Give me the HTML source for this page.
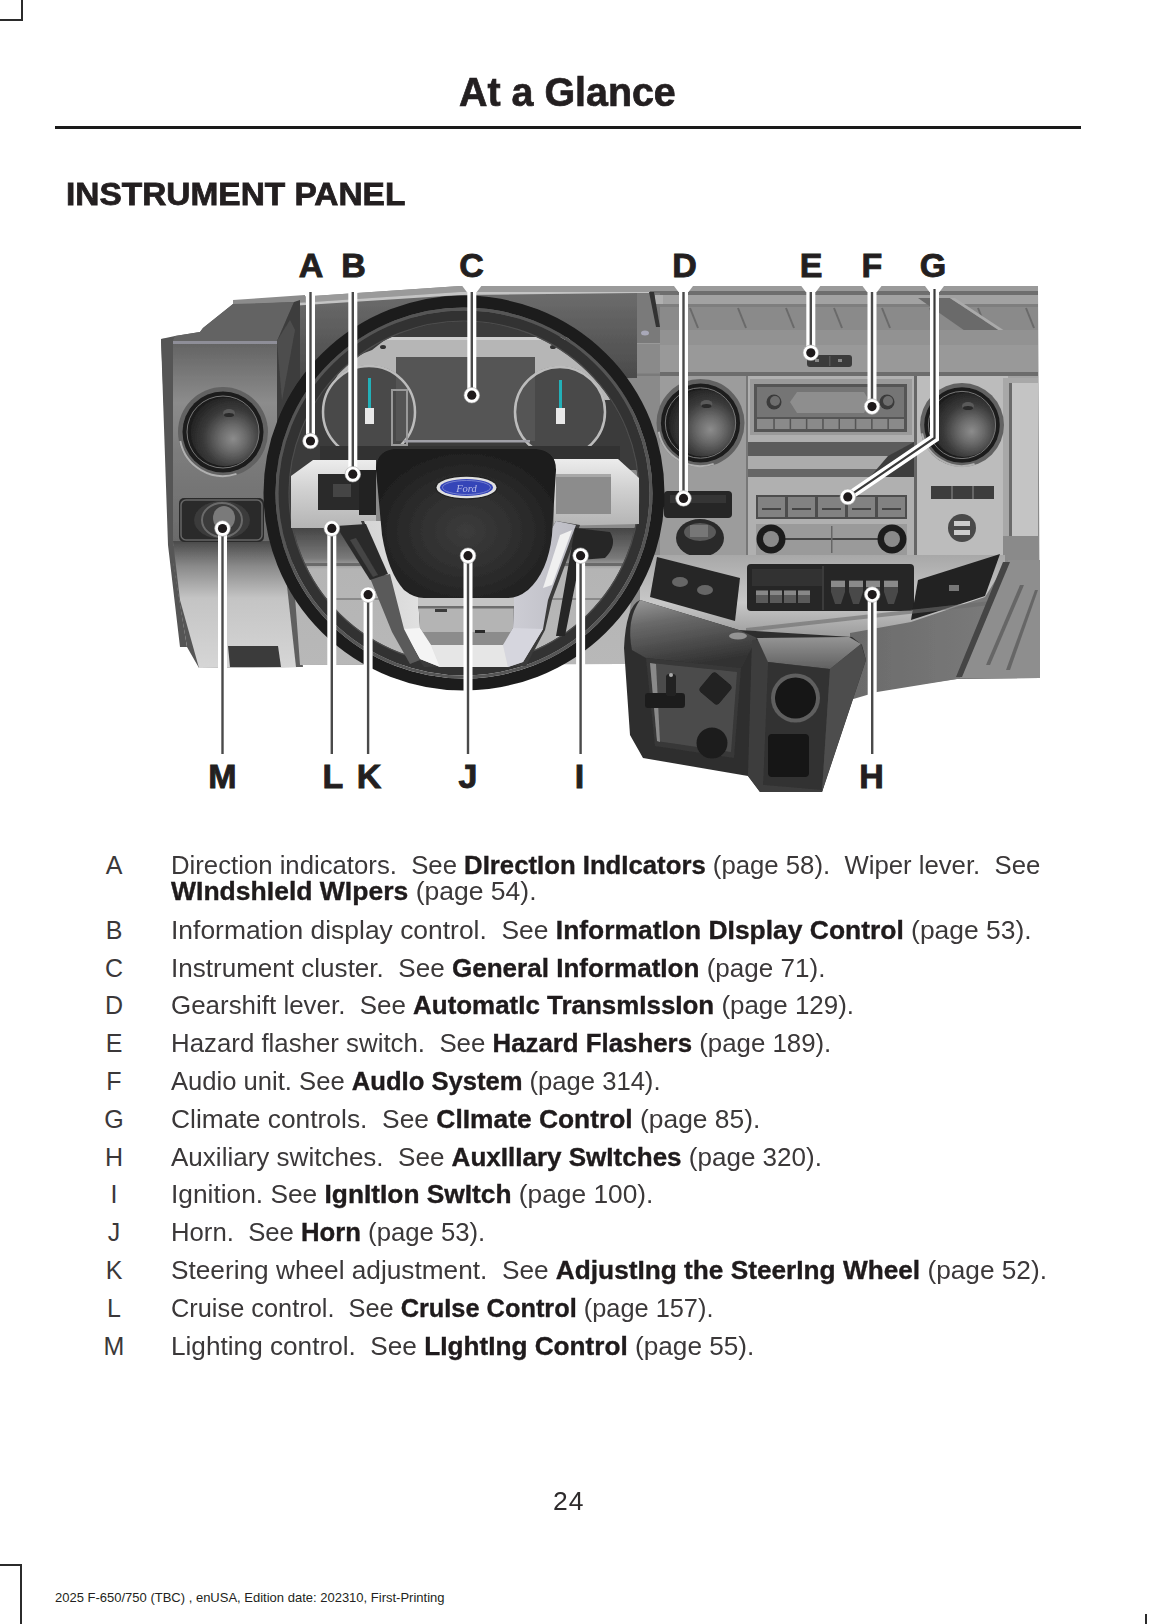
<!DOCTYPE html>
<html><head><meta charset="utf-8">
<style>
html,body{margin:0;padding:0;background:#fff;}
body{width:1168px;height:1624px;position:relative;overflow:hidden;font-family:"Liberation Sans",sans-serif;color:#231f20;}
.t{position:absolute;white-space:nowrap;transform-origin:0 0;}
.ln{position:absolute;left:171px;font-size:25px;line-height:30px;white-space:nowrap;transform-origin:0 50%;color:#3b3839;}
.lt{position:absolute;width:40px;left:94px;text-align:center;font-size:25px;line-height:30px;color:#3b3839;}
b{font-weight:bold;color:#1f1b1c;-webkit-text-stroke:0.35px #1f1b1c;}
.mk{position:absolute;background:#2b2b2b;}
</style></head><body>
<div class="mk" style="left:21px;top:0;width:2px;height:21px"></div>
<div class="mk" style="left:0;top:19px;width:23px;height:2px"></div>
<div class="mk" style="left:20px;top:1564px;width:2px;height:60px"></div>
<div class="mk" style="left:0;top:1564px;width:22px;height:2px"></div>
<div class="mk" style="left:1145px;top:1614px;width:2px;height:10px"></div>

<div class="t" id="h1" style="left:459px;top:67.5px;font-size:40px;transform:scaleX(0.985);-webkit-text-stroke:0.7px #231f20;font-weight:bold;line-height:48px;">At a Glance</div>
<div class="mk" style="left:55px;top:126px;width:1026px;height:2.5px;background:#1a1a1a"></div>
<div class="t" id="h2" style="left:66px;top:175.5px;font-size:32px;transform:scaleX(1.045);-webkit-text-stroke:0.8px #231f20;font-weight:bold;line-height:36px;">INSTRUMENT PANEL</div>

<div id="items">
<div class="lt" style="top:850.4px">A</div>
<div class="ln" id="l1" style="top:850.4px;transform:scaleX(1.029)">Direction indicators.&nbsp; See <b>DIrectIon IndIcators</b> (page 58).&nbsp; Wiper lever.&nbsp; See</div>
<div class="ln" id="l2" style="top:876.4px;transform:scaleX(1.061)"><b>WIndshIeld WIpers</b> (page 54).</div>
<div class="lt" style="top:914.7px">B</div>
<div class="ln" id="l3" style="top:914.7px;transform:scaleX(1.057)">Information display control.&nbsp; See <b>InformatIon DIsplay Control</b> (page 53).</div>
<div class="lt" style="top:952.5px">C</div>
<div class="ln" id="l4" style="top:952.5px;transform:scaleX(1.042)">Instrument cluster.&nbsp; See <b>General InformatIon</b> (page 71).</div>
<div class="lt" style="top:990.3px">D</div>
<div class="ln" id="l5" style="top:990.3px;transform:scaleX(1.037)">Gearshift lever.&nbsp; See <b>AutomatIc TransmIssIon</b> (page 129).</div>
<div class="lt" style="top:1028.1px">E</div>
<div class="ln" id="l6" style="top:1028.1px;transform:scaleX(1.033)">Hazard flasher switch.&nbsp; See <b>Hazard Flashers</b> (page 189).</div>
<div class="lt" style="top:1065.9px">F</div>
<div class="ln" id="l7" style="top:1065.9px;transform:scaleX(1.024)">Audio unit. See <b>AudIo System</b> (page 314).</div>
<div class="lt" style="top:1103.7px">G</div>
<div class="ln" id="l8" style="top:1103.7px;transform:scaleX(1.055)">Climate controls.&nbsp; See <b>ClImate Control</b> (page 85).</div>
<div class="lt" style="top:1141.5px">H</div>
<div class="ln" id="l9" style="top:1141.5px;transform:scaleX(1.041)">Auxiliary switches.&nbsp; See <b>AuxIlIary SwItches</b> (page 320).</div>
<div class="lt" style="top:1179.3px">I</div>
<div class="ln" id="l10" style="top:1179.3px;transform:scaleX(1.052)">Ignition. See <b>IgnItIon SwItch</b> (page 100).</div>
<div class="lt" style="top:1217.1px">J</div>
<div class="ln" id="l11" style="top:1217.1px;transform:scaleX(1.028)">Horn.&nbsp; See <b>Horn</b> (page 53).</div>
<div class="lt" style="top:1254.9px">K</div>
<div class="ln" id="l12" style="top:1254.9px;transform:scaleX(1.049)">Steering wheel adjustment.&nbsp; See <b>AdjustIng the SteerIng Wheel</b> (page 52).</div>
<div class="lt" style="top:1292.7px">L</div>
<div class="ln" id="l13" style="top:1292.7px;transform:scaleX(1.014)">Cruise control.&nbsp; See <b>CruIse Control</b> (page 157).</div>
<div class="lt" style="top:1330.5px">M</div>
<div class="ln" id="l14" style="top:1330.5px;transform:scaleX(1.047)">Lighting control.&nbsp; See <b>LIghtIng Control</b> (page 55).</div>
</div>

<div class="t" id="pg" style="left:553px;top:1486px;font-size:25px;letter-spacing:1px;transform:scaleX(1.06);color:#2e2b2c;line-height:30px;">24</div>
<div class="t" id="ft" style="left:55px;top:1590px;font-size:13px;line-height:16px;">2025 F-650/750 (TBC) , enUSA, Edition date: 202310, First-Printing</div>

<svg id="dash" width="1168" height="1624" style="position:absolute;left:0;top:0" viewBox="0 0 1168 1624">
<defs>
<linearGradient id="gLeftFace" x1="0" y1="0" x2="0" y2="1">
<stop offset="0" stop-color="#626262"/><stop offset="0.3" stop-color="#8c8c8c"/><stop offset="0.55" stop-color="#7c7c7c"/><stop offset="1" stop-color="#6a6a6a"/></linearGradient>
<linearGradient id="gLowLeft" x1="0" y1="0" x2="0" y2="1">
<stop offset="0" stop-color="#4a4a4a"/><stop offset="0.2" stop-color="#8a8a8a"/><stop offset="0.45" stop-color="#c4c4c4"/><stop offset="1" stop-color="#d6d6d6"/></linearGradient>
<radialGradient id="gVent" cx="0.6" cy="0.58" r="0.65" fx="0.62" fy="0.6">
<stop offset="0" stop-color="#8c8c8c"/><stop offset="0.3" stop-color="#6a6a6a"/><stop offset="0.65" stop-color="#3a3a3a"/><stop offset="1" stop-color="#202020"/></radialGradient>
<radialGradient id="gHub" cx="0.5" cy="0.55" r="0.6">
<stop offset="0" stop-color="#3c3c3c"/><stop offset="0.6" stop-color="#2a2a2a"/><stop offset="1" stop-color="#1a1a1a"/></radialGradient>
<linearGradient id="gSpokeL" x1="0" y1="0" x2="0" y2="1">
<stop offset="0" stop-color="#ececec"/><stop offset="0.45" stop-color="#d0d0d0"/><stop offset="1" stop-color="#b4b4b4"/></linearGradient>
<linearGradient id="gSpokeV" x1="0" y1="0" x2="1" y2="0">
<stop offset="0" stop-color="#d4d4d4"/><stop offset="0.3" stop-color="#e2e2e2"/><stop offset="0.7" stop-color="#cdcdd4"/><stop offset="1" stop-color="#bcbcc4"/></linearGradient>
<linearGradient id="gConsole" x1="0" y1="0" x2="0" y2="1">
<stop offset="0" stop-color="#5a5a5a"/><stop offset="0.5" stop-color="#3e3e3e"/><stop offset="1" stop-color="#2a2a2a"/></linearGradient>
<linearGradient id="gHood" x1="0" y1="0" x2="0" y2="1">
<stop offset="0" stop-color="#6c6c6c"/><stop offset="0.5" stop-color="#5a5a5a"/><stop offset="1" stop-color="#4a4a4a"/></linearGradient>
<linearGradient id="gUnder" x1="0" y1="0" x2="0" y2="1">
<stop offset="0" stop-color="#454545"/><stop offset="0.22" stop-color="#7a7a7a"/><stop offset="0.3" stop-color="#b4b4b4"/><stop offset="1" stop-color="#b8b8b8"/></linearGradient>
<linearGradient id="gLowCenter" x1="0" y1="0" x2="0" y2="1">
<stop offset="0" stop-color="#a8a8a8"/><stop offset="0.5" stop-color="#c8c8c8"/><stop offset="1" stop-color="#8a8a8a"/></linearGradient>
<linearGradient id="gRightLow" x1="0" y1="0" x2="1" y2="0">
<stop offset="0" stop-color="#6a6a6a"/><stop offset="1" stop-color="#808080"/></linearGradient>
<linearGradient id="gConsoleTop" x1="0" y1="0" x2="0.3" y2="1">
<stop offset="0" stop-color="#9a9a9a"/><stop offset="0.35" stop-color="#6a6a6a"/><stop offset="1" stop-color="#333"/></linearGradient>
<linearGradient id="gConsoleTop2" x1="0" y1="0" x2="0" y2="1">
<stop offset="0" stop-color="#959595"/><stop offset="1" stop-color="#606060"/></linearGradient>
<filter id="soft" x="-2%" y="-2%" width="104%" height="104%"><feGaussianBlur stdDeviation="0.7"/></filter>
<filter id="blur1" x="-5%" y="-5%" width="110%" height="110%"><feGaussianBlur stdDeviation="1"/></filter>
<filter id="blur2" x="-10%" y="-10%" width="120%" height="120%"><feGaussianBlur stdDeviation="2.5"/></filter>
</defs>
<style>.lab{font-family:"Liberation Sans",sans-serif;font-weight:bold;font-size:34px;fill:#231f20;stroke:#231f20;stroke-width:0.9;}</style>
<g filter="url(#soft)">
<polygon points="298,297 460,286 1038,286 1040,678 957,679 866,692 866,640 625,650 625,664 300,665" fill="#8a8a8a"/>
<polygon points="298,297 460,286 1038,286 1038,292 460,292 298,303" fill="#9a9a9a"/>
<polygon points="298,303 460,292 650,292 650,295 460,296 298,308" fill="#c4c4c4"/>
<polygon points="290,306 460,295 637,293 637,378 290,380" fill="url(#gHood)"/>
<rect x="650" y="291" width="388" height="4" fill="#6e6e6e"/>
<rect x="650" y="295" width="388" height="9" fill="#a2a2a2"/>
<rect x="650" y="304" width="388" height="3" fill="#7e7e7e"/>
<rect x="650" y="307" width="388" height="23" fill="#8a8a8a"/>
<line x1="690" y1="308" x2="698" y2="328" stroke="#6a6a6a" stroke-width="2"/>
<line x1="738" y1="308" x2="746" y2="328" stroke="#6a6a6a" stroke-width="2"/>
<line x1="786" y1="308" x2="794" y2="328" stroke="#6a6a6a" stroke-width="2"/>
<line x1="834" y1="308" x2="842" y2="328" stroke="#6a6a6a" stroke-width="2"/>
<line x1="882" y1="308" x2="890" y2="328" stroke="#6a6a6a" stroke-width="2"/>
<line x1="930" y1="308" x2="938" y2="328" stroke="#6a6a6a" stroke-width="2"/>
<line x1="978" y1="308" x2="986" y2="328" stroke="#6a6a6a" stroke-width="2"/>
<line x1="1026" y1="308" x2="1034" y2="328" stroke="#6a6a6a" stroke-width="2"/>
<polygon points="918,298 950,298 1003,333 968,333" fill="#6a6a6a"/>
<polygon points="950,298 1003,333 1008,333 955,298" fill="#aaa"/>
<rect x="650" y="330" width="388" height="15" fill="#929292"/>
<rect x="650" y="345" width="388" height="28" fill="#999"/>
<rect x="650" y="372" width="388" height="4" fill="#6c6c6c"/>
<rect x="637" y="293" width="23" height="83" fill="#7a7a7a"/>
<rect x="655" y="295" width="8" height="9" fill="#b0b0b0"/>
<polygon points="649,292 654,292 660,327 656,327" fill="#333"/>
<rect x="637" y="343" width="23" height="1.5" fill="#999"/>
<rect x="637" y="344.5" width="23" height="29" fill="#8a8a8a"/>
<ellipse cx="645" cy="333" rx="4" ry="2.5" fill="#a8a8b8"/>
<rect x="807" y="355" width="45" height="12" rx="3" fill="#3a3a3a"/>
<rect x="829" y="356" width="1.5" height="10" fill="#555"/>
<rect x="815" y="359" width="4" height="3" fill="#888"/><rect x="838" y="359" width="4" height="3" fill="#888"/>
<rect x="660" y="376" width="378" height="190" fill="#a2a2a2"/>
<rect x="660" y="376" width="88" height="190" fill="#9c9c9c"/>
<rect x="746" y="376" width="170" height="235" fill="#b0b0b0"/>
<rect x="746" y="376" width="2" height="235" fill="#777"/>
<rect x="914" y="376" width="3" height="235" fill="#666"/>
<path d="M917,376 L1008,376 L1008,550 Q1008,560 998,562 L917,575 Z" fill="#bcbcbc"/>
<rect x="1003" y="378" width="35" height="182" fill="#a8a8a8"/>
<rect x="1012" y="383" width="26" height="153" fill="#c4c4c4"/>
<rect x="1009" y="383" width="3" height="160" fill="#6a6a6a"/>
<rect x="1003" y="536" width="35" height="26" fill="#8a8a8a"/>
<rect x="750" y="379" width="162" height="56" fill="#9a9a9a"/>
<rect x="754" y="384" width="153" height="48" fill="#555"/>
<rect x="757" y="387" width="147" height="30" fill="#747474"/>
<polygon points="797,392 864,392 870,402 864,413 797,413 790,402" fill="#8e8e8e"/>
<circle cx="774" cy="402" r="7.5" fill="#3a3a3a"/><circle cx="775" cy="401" r="5" fill="#6e6e6e"/>
<circle cx="887" cy="402" r="7.5" fill="#3a3a3a"/><circle cx="888" cy="401" r="5" fill="#6e6e6e"/>
<rect x="757" y="419" width="147" height="10" fill="#8a8a8a"/>
<rect x="773.3" y="419" width="1.5" height="10" fill="#555"/>
<rect x="789.6" y="419" width="1.5" height="10" fill="#555"/>
<rect x="805.9" y="419" width="1.5" height="10" fill="#555"/>
<rect x="822.2" y="419" width="1.5" height="10" fill="#555"/>
<rect x="838.5" y="419" width="1.5" height="10" fill="#555"/>
<rect x="854.8" y="419" width="1.5" height="10" fill="#555"/>
<rect x="871.1" y="419" width="1.5" height="10" fill="#555"/>
<rect x="887.4" y="419" width="1.5" height="10" fill="#555"/>
<rect x="748" y="442" width="166" height="14" fill="#5c5c5c"/>
<rect x="748" y="456" width="166" height="13" fill="#acacac"/>
<rect x="748" y="469" width="166" height="8" fill="#666"/>
<polygon points="888,456 914,442 914,477 870,477" fill="#3e3e3e"/>
<rect x="756" y="495" width="151" height="24" fill="#4e4e4e"/>
<rect x="758" y="497" width="27" height="20" fill="#828282"/>
<rect x="762" y="508" width="19" height="2" fill="#444"/>
<rect x="788" y="497" width="27" height="20" fill="#828282"/>
<rect x="792" y="508" width="19" height="2" fill="#444"/>
<rect x="818" y="497" width="27" height="20" fill="#828282"/>
<rect x="822" y="508" width="19" height="2" fill="#444"/>
<rect x="848" y="497" width="27" height="20" fill="#828282"/>
<rect x="852" y="508" width="19" height="2" fill="#444"/>
<rect x="878" y="497" width="27" height="20" fill="#828282"/>
<rect x="882" y="508" width="19" height="2" fill="#444"/>
<rect x="756" y="524" width="151" height="31" fill="#9a9a9a"/>
<rect x="785" y="538" width="95" height="2" fill="#444"/>
<rect x="831" y="526" width="1.5" height="27" fill="#666"/>
<circle cx="771" cy="539" r="14.5" fill="#1c1c1c"/><circle cx="771" cy="539" r="8" fill="#8a8a8a"/>
<circle cx="892" cy="539" r="14.5" fill="#1c1c1c"/><circle cx="892" cy="539" r="8" fill="#8a8a8a"/>
<circle cx="700.5" cy="423" r="44" fill="#626262"/><path d="M658.7,431.8 A42.68,42.68 0 0 0 713.7,463.92" fill="none" stroke="#b0b0b0" stroke-width="2"/><circle cx="700.5" cy="423" r="39.6" fill="#1c1c1c"/><circle cx="702.5" cy="423" r="33.44" fill="url(#gVent)"/><circle cx="700.5" cy="423" r="35.2" fill="none" stroke="#777" stroke-width="1"/><ellipse cx="706.5" cy="404" rx="6" ry="4" fill="#5a5a5a"/><ellipse cx="706.5" cy="406" rx="5" ry="2" fill="#2a2a2a"/>
<circle cx="962" cy="425" r="42" fill="#626262"/><path d="M922.1,433.4 A40.74,40.74 0 0 0 974.6,464.06" fill="none" stroke="#b0b0b0" stroke-width="2"/><circle cx="962" cy="425" r="37.800000000000004" fill="#1c1c1c"/><circle cx="964" cy="425" r="31.92" fill="url(#gVent)"/><circle cx="962" cy="425" r="33.6" fill="none" stroke="#777" stroke-width="1"/><ellipse cx="968" cy="406" rx="6" ry="4" fill="#5a5a5a"/><ellipse cx="968" cy="408" rx="5" ry="2" fill="#2a2a2a"/>
<rect x="931" y="486" width="63" height="13" fill="#3c3c3c"/>
<rect x="951" y="486" width="2" height="13" fill="#666"/><rect x="972" y="486" width="2" height="13" fill="#666"/>
<circle cx="962" cy="528" r="14" fill="#4a4a4a"/><rect x="954" y="521" width="16" height="5" fill="#ccc"/><rect x="954" y="530" width="16" height="5" fill="#ccc"/>
<rect x="664" y="491" width="68" height="27" rx="4" fill="#252525"/>
<rect x="670" y="495" width="56" height="8" fill="#353535"/>
<ellipse cx="700" cy="538" rx="24" ry="19" fill="#2a2a2a"/>
<ellipse cx="700" cy="532" rx="16" ry="9" fill="#5a5a5a"/>
<rect x="690" y="525" width="18" height="12" fill="#8a8a8a" opacity="0.6"/>
<polygon points="640,555 1005,555 1005,640 640,650" fill="url(#gLowCenter)"/>
<rect x="747" y="564" width="167" height="47" rx="4" fill="#252525"/>
<rect x="752" y="569" width="70" height="17" fill="#303030"/>
<rect x="756" y="590" width="12" height="13" fill="#5a5a5a"/>
<rect x="756" y="591" width="12" height="4" fill="#888"/>
<rect x="770" y="590" width="12" height="13" fill="#5a5a5a"/>
<rect x="770" y="591" width="12" height="4" fill="#888"/>
<rect x="784" y="590" width="12" height="13" fill="#5a5a5a"/>
<rect x="784" y="591" width="12" height="4" fill="#888"/>
<rect x="798" y="590" width="12" height="13" fill="#5a5a5a"/>
<rect x="798" y="591" width="12" height="4" fill="#888"/>
<rect x="822" y="566" width="2" height="44" fill="#3a3a3a"/>
<path d="M831,580 L845,580 L845,592 L841,604 L835,604 L831,592 Z" fill="#484848"/>
<rect x="831" y="581" width="14" height="6" fill="#8a8a8a"/>
<path d="M849,580 L863,580 L863,592 L859,604 L853,604 L849,592 Z" fill="#484848"/>
<rect x="849" y="581" width="14" height="6" fill="#8a8a8a"/>
<path d="M866,580 L880,580 L880,592 L876,604 L870,604 L866,592 Z" fill="#484848"/>
<rect x="866" y="581" width="14" height="6" fill="#8a8a8a"/>
<path d="M884,580 L898,580 L898,592 L894,604 L888,604 L884,592 Z" fill="#484848"/>
<rect x="884" y="581" width="14" height="6" fill="#8a8a8a"/>
<polygon points="657,557 740,578 735,621 650,597" fill="#262626"/>
<ellipse cx="680" cy="582" rx="8" ry="5" fill="#666"/>
<ellipse cx="705" cy="590" rx="8" ry="5" fill="#666"/>
<polygon points="918,580 1000,554 985,596 911,620" fill="#222"/>
<rect x="949" y="585" width="10" height="6" fill="#777"/>
<polygon points="850,633 911,622 985,597 1008,560 1040,560 1040,678 957,679 877,692 850,700" fill="url(#gRightLow)"/>
<polygon points="746,628 1000,600 1000,604 746,632" fill="#6a6a6a" opacity="0.6"/>
<polygon points="1008,560 1040,560 1040,678 960,678" fill="#8e8e8e"/>
<polygon points="1003,562 1010,562 962,677 956,677" fill="#444"/>
<polygon points="1020,585 1024,585 990,665 986,665" fill="#666"/>
<polygon points="1035,590 1038,590 1010,670 1006,670" fill="#666"/>
<polygon points="161,339 175,336 200,332 203,328 233,304 294,301 300,298 300,667 199,668 187,647 170,545" fill="#565656"/>
<polygon points="233,300 305,295 305,302 294,302 233,305" fill="#8c8c8c"/>
<polygon points="175,336 200,332 203,328 233,304 294,302 277,341 173,341" fill="#646464"/>
<polygon points="161,339 173,338 173,560 187,647 180,647 168,545" fill="#555"/>
<rect x="173" y="341" width="104" height="205" fill="url(#gLeftFace)"/>
<rect x="173" y="341" width="104" height="3" fill="#8e8e98"/>
<polygon points="277,341 294,302 300,300 300,667 277,560" fill="#3e3e3e"/>
<polygon points="277,341 290,320 295,330 282,400" fill="#4e4e4e"/>
<polygon points="173,541 282,541 302,667 199,668 180,600" fill="url(#gLowLeft)"/>
<polygon points="228,646 278,646 281,667 230,667" fill="#3a3a3a"/>
<polygon points="282,541 290,541 303,667 296,667" fill="#5e5e5e"/>
<circle cx="223" cy="432" r="45" fill="#626262"/><path d="M180.25,441.0 A43.65,43.65 0 0 0 236.5,473.85" fill="none" stroke="#b0b0b0" stroke-width="2"/><circle cx="223" cy="432" r="40.5" fill="#1c1c1c"/><circle cx="225" cy="432" r="34.2" fill="url(#gVent)"/><circle cx="223" cy="432" r="36.0" fill="none" stroke="#777" stroke-width="1"/><ellipse cx="229" cy="413" rx="6" ry="4" fill="#5a5a5a"/><ellipse cx="229" cy="415" rx="5" ry="2" fill="#2a2a2a"/>
<rect x="179" y="498" width="85" height="44" rx="5" fill="#2a2a2a"/>
<rect x="181" y="500" width="81" height="40" rx="5" fill="none" stroke="#666" stroke-width="1.5"/>
<ellipse cx="222" cy="520" rx="28" ry="19" fill="#3a3a3a"/>
<ellipse cx="222" cy="520" rx="20" ry="17" fill="none" stroke="#6a6a6a" stroke-width="2"/>
<ellipse cx="224" cy="518" rx="11" ry="12" fill="#7a7a7a"/>
<polygon points="290,528 640,528 625,650 625,664 300,665" fill="url(#gUnder)"/>
<rect x="300" y="563" width="325" height="3" fill="#6a6a6a"/>
<rect x="300" y="598" width="325" height="2" fill="#8a8a8a"/>
<path d="M624,648 Q626,606 640,600 L739,630 L852,637 L862,645 L866,660 L822,792 L760,792 L748,776 L643,758 L630,735 Z" fill="#2e2e2e"/>
<path d="M640,600 L739,630 L757,638 L741,668 L646,658 L632,650 Q626,620 640,600 Z" fill="url(#gConsoleTop)"/>
<ellipse cx="738" cy="636" rx="9" ry="3.5" fill="#d0d0d0" opacity="0.55"/>
<polygon points="646,658 741,668 734,758 655,746" fill="#383838"/>
<polygon points="650,663 737,672 731,752 657,741" fill="#4c4c4c"/>
<polygon points="650,663 656,664 660,742 657,741" fill="#8a8a8a"/>
<rect x="645" y="693" width="40" height="15" rx="3" fill="#1e1e1e"/>
<rect x="666" y="674" width="10" height="22" rx="3" fill="#222"/>
<circle cx="671" cy="675" r="2" fill="#aaa"/>
<rect x="703" y="676" width="25" height="25" rx="4" transform="rotate(40 715.5 688.5)" fill="#202020"/>
<circle cx="712" cy="743" r="15.5" fill="#1e1e1e"/>
<polygon points="752,640 850,637 862,645 822,792 760,792 748,776" fill="#3e3e3e"/>
<polygon points="757,638 849,637 861,644 830,669 768,662" fill="url(#gConsoleTop2)"/>
<polygon points="768,662 830,669 822,790 763,785" fill="#333"/>
<polygon points="830,669 861,644 866,660 822,792" fill="#4e4e4e"/>
<circle cx="795.5" cy="698" r="24.5" fill="#5e5e5e"/>
<circle cx="795.5" cy="698" r="20.5" fill="#151515"/>
<rect x="768" y="734" width="41" height="43" rx="4" fill="#181818"/>
<path d="M290,470 L300,380 Q340,318 464,312 Q590,318 628,380 L640,470 Z" fill="#3a3a3a"/>
<path d="M328,400 Q335,362 372,350 L386,339 L556,339 L570,350 Q604,362 610,400 Z" fill="#b6b6b6"/>
<rect x="370" y="337" width="200" height="3" fill="#cfcfcf"/>
<ellipse cx="383" cy="347" rx="3" ry="2" fill="#333"/><ellipse cx="553" cy="347" rx="3" ry="2" fill="#333"/>
<circle cx="369" cy="412" r="47" fill="#4a4a4a"/>
<circle cx="560" cy="412" r="46" fill="#4a4a4a"/>
<rect x="396" y="357" width="139" height="84" fill="#555"/>
<circle cx="369" cy="412" r="46" fill="none" stroke="#bcbcbc" stroke-width="2.5"/>
<circle cx="560" cy="412" r="45" fill="none" stroke="#bcbcbc" stroke-width="2.5"/>
<rect x="392" y="390" width="15" height="55" fill="none" stroke="#9a9a9a" stroke-width="2"/>
<rect x="404" y="440" width="126" height="2.5" fill="#a0a0a8"/>
<rect x="368" y="378" width="3" height="30" fill="#22b0b8"/>
<rect x="365" y="408" width="9" height="16" fill="#e8e8e8"/>
<rect x="559" y="380" width="3" height="30" fill="#22b0b8"/>
<rect x="556" y="408" width="9" height="16" fill="#e8e8e8"/>
<rect x="320" y="446" width="300" height="14" fill="#333"/>
<ellipse cx="464" cy="493" rx="180" ry="177" fill="none" stroke="#323232" stroke-width="11"/>
<ellipse cx="464" cy="493" rx="194.5" ry="191.5" fill="none" stroke="#1c1c1c" stroke-width="12"/>
<ellipse cx="464" cy="493" rx="187" ry="184" fill="none" stroke="#555" stroke-width="3"/>
<ellipse cx="464" cy="493" rx="175" ry="172" fill="none" stroke="#4e4e4e" stroke-width="1.2"/>
<path d="M291,476 L313,460 L376,460 L376,528 L291,528 Z" fill="url(#gSpokeL)"/>
<path d="M554,459 L618,459 L639,478 L639,524 L554,526 Z" fill="url(#gSpokeL)"/>
<rect x="318" y="474" width="41" height="36" fill="#2a2a2a"/>
<rect x="333" y="484" width="18" height="13" fill="#444"/>
<rect x="359" y="470" width="17" height="45" fill="#202020"/>
<rect x="556" y="474" width="55" height="40" fill="#8c8c8c"/>
<rect x="556" y="474" width="55" height="3" fill="#a8a8a8"/>
<path d="M361,521 L382,521 L418,597 L514,597 L556,521 L580,525 L552,600 L545,630 L526,666 L424,667 L400,631 Z" fill="#3a3a3a"/>
<path d="M364,521 L382,521 L418,597 L420,628 L431,645 L503,645 L513,628 L514,597 L556,521 L576,525 L548,600 L543,629 L523,662 L508,667 L440,667 L420,659 L403,629 L392,595 Z" fill="url(#gSpokeV)"/>
<path d="M418,597 L514,597 L513,628 L503,645 L431,645 L420,628 Z" fill="#b4b4b4"/>
<rect x="418" y="597" width="96" height="9" fill="#c4c4c4"/>
<rect x="418" y="606" width="96" height="2.5" fill="#6e6e6e"/>
<path d="M421,632 L513,632 L503,645 L431,645 Z" fill="#8c8c8c"/>
<rect x="435" y="609" width="12" height="3" fill="#3a3a3a"/><rect x="475" y="630" width="10" height="3" fill="#2a2a2a"/>
<path d="M403,629 L420,628 L431,645 L440,667 L420,659 Z" fill="#f4f4f4"/>
<path d="M513,628 L543,629 L523,662 L508,667 L503,645 Z" fill="#d6d6de"/>
<path d="M560,535 L572,530 L552,585 L543,588 Z" fill="#f0f0f0"/>
<path d="M431,645 L503,645 L508,667 L440,667 Z" fill="#e6e6e6"/>
<polygon points="370,578 390,574 404,629 420,660 410,664 392,632" fill="#5a5a5a"/>
<polygon points="336,526 366,524 388,574 370,580" fill="#2c2c2c"/>
<polygon points="350,540 356,538 378,575 373,577" fill="#444"/>
<path d="M575,528 L610,532 Q618,545 605,558 L580,560 L565,636 L556,636 Z" fill="#262626"/>
<path d="M376,470 Q376,449 398,449 L532,449 Q556,449 556,470 L552,535 Q548,572 528,590 Q518,598 508,598 L424,598 Q414,598 404,590 Q388,572 382,535 Z" fill="url(#gHub)"/>
<ellipse cx="466.5" cy="487.5" rx="31.5" ry="12" fill="#222"/>
<ellipse cx="466.5" cy="487.5" rx="30" ry="10.8" fill="#e0e0e0"/>
<ellipse cx="466.5" cy="487.5" rx="26.5" ry="8.5" fill="#3544b8"/>
<ellipse cx="466.5" cy="487.5" rx="24" ry="7" fill="none" stroke="#8f9ad8" stroke-width="0.7"/>
<text x="466.5" y="491.5" text-anchor="middle" font-family="Liberation Serif" font-style="italic" font-size="10.5" fill="#b8bde8">Ford</text>
</g>
<line x1="310.5" y1="289" x2="310.5" y2="441" stroke="#fff" stroke-width="9"/><line x1="310.5" y1="289" x2="310.5" y2="441" stroke="#4a4a4a" stroke-width="2.4"/>
<line x1="352.8" y1="289" x2="352.8" y2="474.2" stroke="#fff" stroke-width="9"/><line x1="352.8" y1="289" x2="352.8" y2="474.2" stroke="#4a4a4a" stroke-width="2.4"/>
<line x1="471.8" y1="289" x2="471.8" y2="395.2" stroke="#fff" stroke-width="9"/><line x1="471.8" y1="289" x2="471.8" y2="395.2" stroke="#4a4a4a" stroke-width="2.4"/>
<line x1="683.5" y1="289" x2="683.5" y2="498.4" stroke="#fff" stroke-width="9"/><line x1="683.5" y1="289" x2="683.5" y2="498.4" stroke="#4a4a4a" stroke-width="2.4"/>
<line x1="810.8" y1="289" x2="810.8" y2="352.8" stroke="#fff" stroke-width="9"/><line x1="810.8" y1="289" x2="810.8" y2="352.8" stroke="#4a4a4a" stroke-width="2.4"/>
<line x1="872" y1="289" x2="872" y2="406.6" stroke="#fff" stroke-width="9"/><line x1="872" y1="289" x2="872" y2="406.6" stroke="#4a4a4a" stroke-width="2.4"/>
<polygon points="299.5,284 321.5,284 315.5,292 305.5,292" fill="#fff"/>
<polygon points="341.8,284 363.8,284 357.8,292 347.8,292" fill="#fff"/>
<polygon points="460.8,284 482.8,284 476.8,292 466.8,292" fill="#fff"/>
<polygon points="672.5,284 694.5,284 688.5,292 678.5,292" fill="#fff"/>
<polygon points="799.8,284 821.8,284 815.8,292 805.8,292" fill="#fff"/>
<polygon points="861,284 883,284 877,292 867,292" fill="#fff"/>
<polygon points="923.5,284 945.5,284 939.5,292 929.5,292" fill="#fff"/>
<polyline points="934.5,289 934.5,438 847.8,496.9" fill="none" stroke="#fff" stroke-width="9" stroke-linejoin="miter"/>
<polyline points="934.5,289 934.5,438 847.8,496.9" fill="none" stroke="#3a3a3a" stroke-width="2.2"/>
<line x1="222.5" y1="528.5" x2="222.5" y2="754" stroke="#fff" stroke-width="9"/><line x1="222.5" y1="528.5" x2="222.5" y2="754" stroke="#4a4a4a" stroke-width="2.4"/>
<line x1="331.8" y1="528.4" x2="331.8" y2="754" stroke="#fff" stroke-width="9"/><line x1="331.8" y1="528.4" x2="331.8" y2="754" stroke="#4a4a4a" stroke-width="2.4"/>
<line x1="368.1" y1="594.7" x2="368.1" y2="754" stroke="#fff" stroke-width="9"/><line x1="368.1" y1="594.7" x2="368.1" y2="754" stroke="#4a4a4a" stroke-width="2.4"/>
<line x1="468" y1="555.7" x2="468" y2="754" stroke="#fff" stroke-width="9"/><line x1="468" y1="555.7" x2="468" y2="754" stroke="#4a4a4a" stroke-width="2.4"/>
<line x1="580.6" y1="555.7" x2="580.6" y2="754" stroke="#fff" stroke-width="9"/><line x1="580.6" y1="555.7" x2="580.6" y2="754" stroke="#4a4a4a" stroke-width="2.4"/>
<line x1="872.2" y1="594.6" x2="872.2" y2="754" stroke="#fff" stroke-width="9"/><line x1="872.2" y1="594.6" x2="872.2" y2="754" stroke="#4a4a4a" stroke-width="2.4"/>
<circle cx="310.5" cy="441" r="7.8" fill="#fff" stroke="#aaa" stroke-width="0.6"/><circle cx="310.5" cy="441" r="4.6" fill="#1e1a1b"/>
<circle cx="352.8" cy="474.2" r="7.8" fill="#fff" stroke="#aaa" stroke-width="0.6"/><circle cx="352.8" cy="474.2" r="4.6" fill="#1e1a1b"/>
<circle cx="471.8" cy="395.2" r="7.8" fill="#fff" stroke="#aaa" stroke-width="0.6"/><circle cx="471.8" cy="395.2" r="4.6" fill="#1e1a1b"/>
<circle cx="683.5" cy="498.4" r="7.8" fill="#fff" stroke="#aaa" stroke-width="0.6"/><circle cx="683.5" cy="498.4" r="4.6" fill="#1e1a1b"/>
<circle cx="810.8" cy="352.8" r="7.8" fill="#fff" stroke="#aaa" stroke-width="0.6"/><circle cx="810.8" cy="352.8" r="4.6" fill="#1e1a1b"/>
<circle cx="872" cy="406.6" r="7.8" fill="#fff" stroke="#aaa" stroke-width="0.6"/><circle cx="872" cy="406.6" r="4.6" fill="#1e1a1b"/>
<circle cx="847.8" cy="496.9" r="7.8" fill="#fff" stroke="#aaa" stroke-width="0.6"/><circle cx="847.8" cy="496.9" r="4.6" fill="#1e1a1b"/>
<circle cx="222.5" cy="528.5" r="7.8" fill="#fff" stroke="#aaa" stroke-width="0.6"/><circle cx="222.5" cy="528.5" r="4.6" fill="#1e1a1b"/>
<circle cx="331.8" cy="528.4" r="7.8" fill="#fff" stroke="#aaa" stroke-width="0.6"/><circle cx="331.8" cy="528.4" r="4.6" fill="#1e1a1b"/>
<circle cx="368.1" cy="594.7" r="7.8" fill="#fff" stroke="#aaa" stroke-width="0.6"/><circle cx="368.1" cy="594.7" r="4.6" fill="#1e1a1b"/>
<circle cx="468" cy="555.7" r="7.8" fill="#fff" stroke="#aaa" stroke-width="0.6"/><circle cx="468" cy="555.7" r="4.6" fill="#1e1a1b"/>
<circle cx="580.6" cy="555.7" r="7.8" fill="#fff" stroke="#aaa" stroke-width="0.6"/><circle cx="580.6" cy="555.7" r="4.6" fill="#1e1a1b"/>
<circle cx="872.2" cy="594.6" r="7.8" fill="#fff" stroke="#aaa" stroke-width="0.6"/><circle cx="872.2" cy="594.6" r="4.6" fill="#1e1a1b"/>
<text x="311" y="277" text-anchor="middle" class="lab">A</text>
<text x="353.5" y="277" text-anchor="middle" class="lab">B</text>
<text x="471.5" y="277" text-anchor="middle" class="lab">C</text>
<text x="684.5" y="277" text-anchor="middle" class="lab">D</text>
<text x="811" y="277" text-anchor="middle" class="lab">E</text>
<text x="872" y="277" text-anchor="middle" class="lab">F</text>
<text x="933" y="277" text-anchor="middle" class="lab">G</text>
<text x="222.5" y="788" text-anchor="middle" class="lab">M</text>
<text x="333" y="788" text-anchor="middle" class="lab">L</text>
<text x="369" y="788" text-anchor="middle" class="lab">K</text>
<text x="468" y="788" text-anchor="middle" class="lab">J</text>
<text x="579.5" y="788" text-anchor="middle" class="lab">I</text>
<text x="871.5" y="788" text-anchor="middle" class="lab">H</text>
</svg>
</body></html>
